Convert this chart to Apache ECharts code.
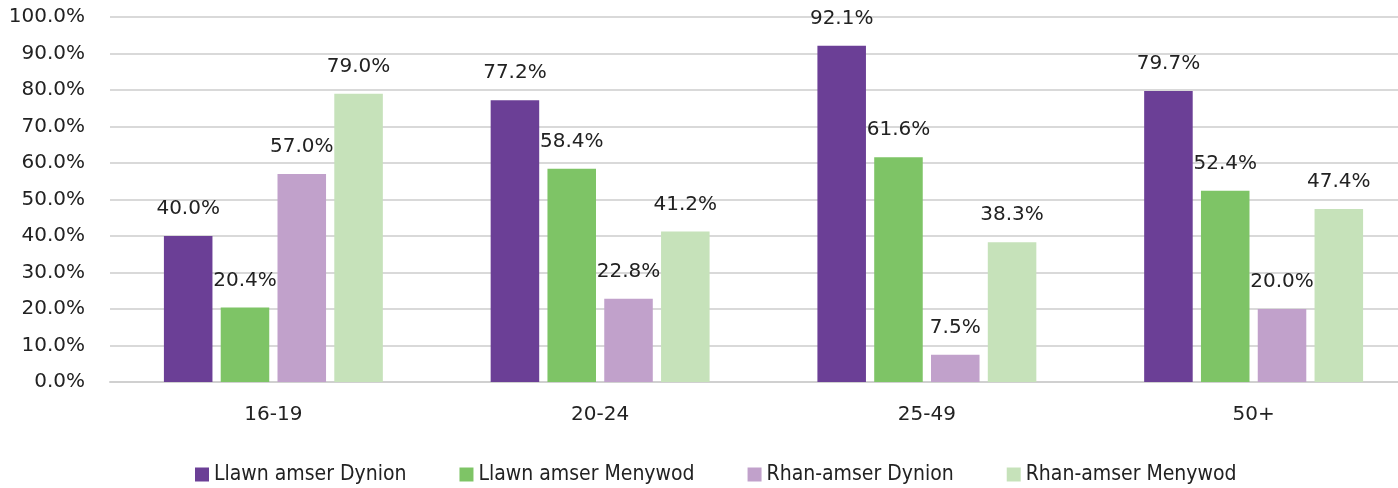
<!DOCTYPE html>
<html><head><meta charset="utf-8">
<script src="https://cdn.jsdelivr.net/npm/echarts@6/dist/echarts.min.js"></script>
<style>html,body{margin:0;padding:0;background:#fff}#c{width:1398px;height:488px}</style>
</head><body><div id="c"></div>
<script>
var categories = ['16-19', '20-24', '25-49', '50+'];
var seriesNames = ['Llawn amser Dynion', 'Llawn amser Menywod', 'Rhan-amser Dynion', 'Rhan-amser Menywod'];
var llawnDynion = [40.0, 77.2, 92.1, 79.7];
var llawnMenywod = [20.4, 58.4, 61.6, 52.4];
var rhanDynion = [57.0, 22.8, 7.5, 20.0];
var rhanMenywod = [79.0, 41.2, 38.3, 47.4];
var colors = ['#6b3f96', '#7ec466', '#c1a1cb', '#c6e2ba'];
var allValues = [llawnDynion, llawnMenywod, rhanDynion, rhanMenywod];
var FONT = '"DejaVu Sans", sans-serif';

var chart = echarts.init(document.getElementById('c'));
chart.setOption({
  animation: false,
  textStyle: {fontFamily: FONT},
  grid: {left: 110, width: 1307, top: 17, height: 365, outerBoundsMode: 'none', containLabel: false},
  legend: {
    top: 459, left: 190,
    itemWidth: 14, itemHeight: 14, itemGap: 53,
    icon: 'rect',
    textStyle: {fontSize: 21, color: '#222',
      fontFamily: '"DejaVu Sans Condensed", "DejaVu Sans", sans-serif'},
    data: seriesNames
  },
  xAxis: {
    type: 'category', data: categories,
    axisLine: {lineStyle: {color: '#d0d0d0', width: 2}},
    axisTick: {show: false},
    axisLabel: {fontSize: 20, color: '#222', margin: 23}
  },
  yAxis: {
    type: 'value', min: 0, max: 100, interval: 10,
    axisLine: {show: false}, axisTick: {show: false},
    splitLine: {lineStyle: {color: '#d9d9d9', width: 2}},
    axisLabel: {fontSize: 20, color: '#222', margin: 25,
      formatter: function (v) { return v.toFixed(1) + '%'; }}
  },
  series: seriesNames.map(function (n, i) {
    return {
      name: n, type: 'bar', data: allValues[i],
      barGap: '17%', barCategoryGap: '33%',
      itemStyle: {color: colors[i]},
      label: {show: true, position: 'top', distance: 17, fontSize: 20, color: '#222',
        formatter: function (p) { return p.value.toFixed(1) + '%'; }}
    };
  })
});
</script></body></html>
